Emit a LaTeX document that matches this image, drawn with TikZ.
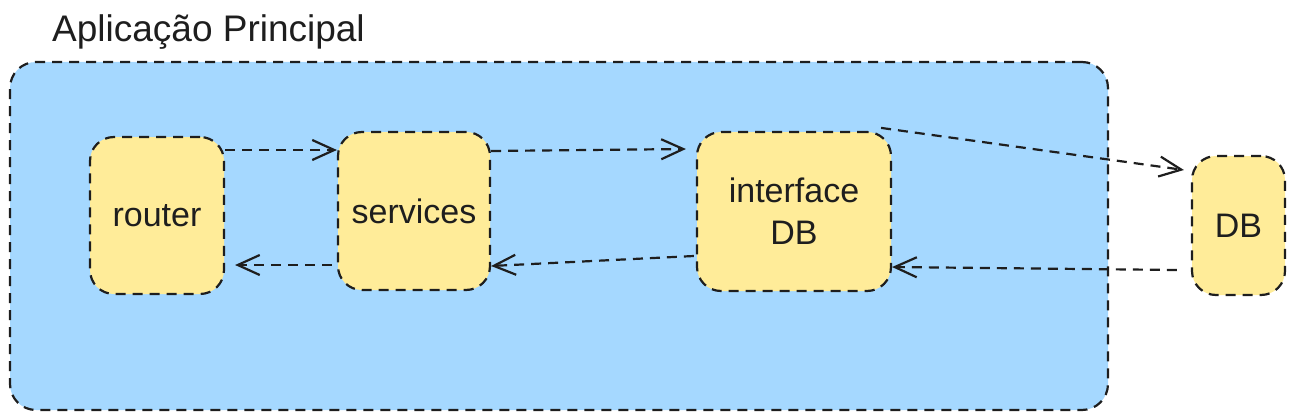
\documentclass[tikz,border=0pt]{standalone}
\usepackage{fontspec}
\setmainfont{Liberation Sans}
\usetikzlibrary{arrows.meta}
\definecolor{ink}{HTML}{1E1E1E}
\definecolor{boxblue}{HTML}{A5D8FF}
\definecolor{boxyellow}{HTML}{FFEC99}
\tikzset{
  dashline/.style={draw=ink, line width=2.2pt, dash pattern=on 10pt off 7pt},
  comp/.style={dashline, fill=boxyellow, rounded corners=24pt, inner sep=0pt,
    align=center, font=\fontsize{34}{42}\selectfont, text=ink},
  arr/.style={draw=ink, line width=2.2pt, dash pattern=on 10pt off 7pt,
    -{Straight Barb[length=22pt,width=20pt,line width=2.2pt]}},
}
\begin{document}
\begin{tikzpicture}[x=1pt,y=-1pt]
\useasboundingbox (0,0) rectangle (1295,420);
\node[dashline, fill=boxblue, rounded corners=26pt, minimum width=1098pt, minimum height=348pt, inner sep=0pt] (app) at (559,236) {};
\node[anchor=base west, font=\fontsize{37}{44}\selectfont, text=ink, inner sep=0pt] (title) at (52,42) {Aplicação Principal};
\node[comp, minimum width=134pt, minimum height=157pt] (router) at (157,215.5) {router};
\node[comp, minimum width=152pt, minimum height=158pt] (services) at (414,211) {services};
\node[comp, minimum width=194pt, minimum height=159pt] (ifdb) at (794,211.5) {interface\\DB};
\node[comp, minimum width=93pt, minimum height=139pt] (db) at (1238.5,225.5) {DB};
\draw[arr] ([yshift=65.5pt]router.east) -- ([yshift=61pt]services.west);
\draw[arr] ([yshift=60pt]services.east) -- ([xshift=-10pt,yshift=62.5pt]ifdb.west);
\draw[arr] ([xshift=-11pt,yshift=3pt]ifdb.north east) -- ([xshift=-7pt,yshift=55.5pt]db.west);
\draw[arr] ([xshift=-14pt,yshift=-44.5pt]db.west) -- ([yshift=-55.5pt]ifdb.east);
\draw[arr] ([xshift=-2pt,yshift=-44.5pt]ifdb.west) -- ([yshift=-55pt]services.east);
\draw[arr] ([xshift=-5pt,yshift=-54pt]services.west) -- ([xshift=10pt,yshift=-49.5pt]router.east);
\end{tikzpicture}
\end{document}
